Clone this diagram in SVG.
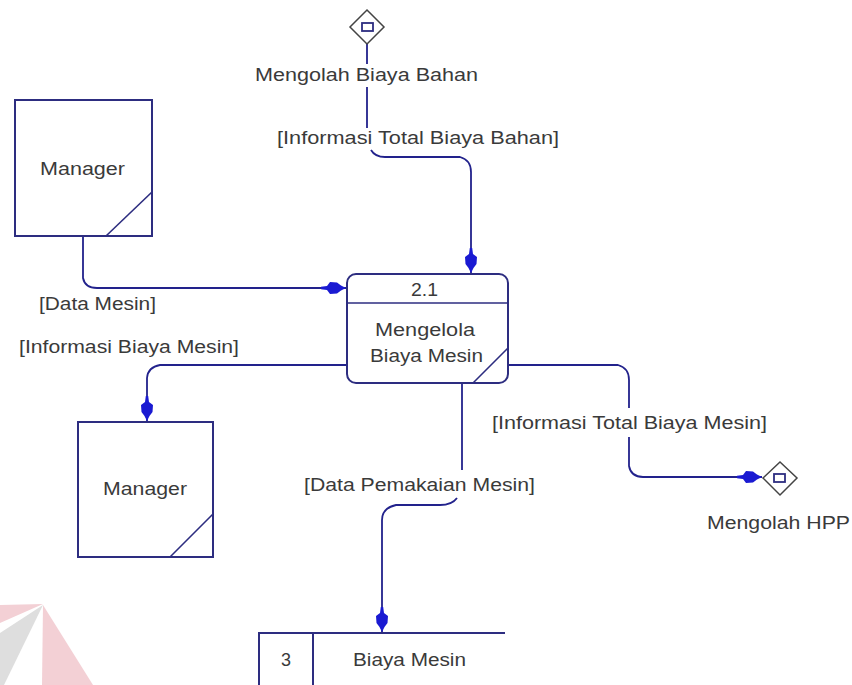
<svg xmlns="http://www.w3.org/2000/svg" width="852" height="685" viewBox="0 0 852 685">
  <style>
    .box { fill: #ffffff; stroke: #2d2d80; stroke-width: 2; }
    .ln { fill: none; stroke: #2d2d80; stroke-width: 1.6; }
    .flow { fill: none; stroke: #22228c; stroke-width: 1.8; }
    .dia { fill: #ffffff; stroke: #444444; stroke-width: 1.5; }
    .t { font-family: "Liberation Sans", Arial, sans-serif; font-size: 17.5px; fill: #3a3a3a; }
  </style>
  <defs>
    <marker id="arr" markerUnits="userSpaceOnUse" markerWidth="30" markerHeight="16" refX="0" refY="0" viewBox="-26 -8 28 16" orient="auto">
      <path d="M0,0 L-5,-2.5 L-9,-5.5 L-16,-6 L-19,-2 L-25,-1.2 L-25,1.2 L-19,2 L-16,6 L-9,5.5 L-5,2.5 Z" fill="#1a1ad2"/>
    </marker>
  </defs>

  <g id="watermark">
    <polygon points="0,605 43,604 0,623" fill="#f3d0d5"/>
    <polygon points="43,605 0,633 0,685 4,685" fill="#dedede"/>
    <polygon points="43,605 42,685 93,685" fill="#f3d0d5"/>
  </g>

  <g id="connectors">
    <path class="flow" d="M367,44 V64 M367,87 V128"/>
    <path class="flow" d="M371,150 Q375,157 385,157 H460 Q471,160 471,172 V273" marker-end="url(#arr)"/>
    <path class="flow" d="M83,236 V278 Q85,288 97,288 H346" marker-end="url(#arr)"/>
    <path class="flow" d="M347,365 H160 Q148,367 147,378 V421" marker-end="url(#arr)"/>
    <path class="flow" d="M508,365 H618 Q629,368 629,380 V408"/>
    <path class="flow" d="M629,437 V466 Q631,477 643,477 H762" marker-end="url(#arr)"/>
    <path class="flow" d="M462,383 V470"/>
    <path class="flow" d="M457,498 Q452,505 440,505 H396 Q382,508 382,520 V632" marker-end="url(#arr)"/>
    <text class="t" x="277" y="144" textLength="282" lengthAdjust="spacingAndGlyphs">[Informasi Total Biaya Bahan]</text>
    <text class="t" x="39" y="310" textLength="117" lengthAdjust="spacingAndGlyphs">[Data Mesin]</text>
    <text class="t" x="19" y="353" textLength="220" lengthAdjust="spacingAndGlyphs">[Informasi Biaya Mesin]</text>
    <text class="t" x="492" y="429" textLength="275" lengthAdjust="spacingAndGlyphs">[Informasi Total Biaya Mesin]</text>
    <text class="t" x="304" y="491" textLength="231" lengthAdjust="spacingAndGlyphs">[Data Pemakaian Mesin]</text>
  </g>

  <g id="src-bahan">
    <polygon class="dia" points="367,10 384,27 367,44 350,27"/>
    <rect x="362" y="23" width="11" height="8" fill="none" stroke="#2d2d80" stroke-width="1.8"/>
    <text class="t" x="255" y="81" textLength="223" lengthAdjust="spacingAndGlyphs">Mengolah Biaya Bahan</text>
  </g>

  <g id="manager1">
    <rect class="box" x="15" y="100" width="137" height="136"/>
    <line class="ln" x1="152" y1="192" x2="106" y2="236"/>
    <text class="t" x="40" y="175" textLength="85" lengthAdjust="spacingAndGlyphs">Manager</text>
  </g>

  <g id="process21">
    <rect class="box" x="347" y="274" width="161" height="109" rx="9" ry="9"/>
    <line class="ln" x1="347" y1="303" x2="508" y2="303"/>
    <line class="ln" x1="508" y1="348" x2="473" y2="383"/>
    <text class="t" x="411" y="296" textLength="27" lengthAdjust="spacingAndGlyphs">2.1</text>
    <text class="t" x="375" y="336" textLength="100" lengthAdjust="spacingAndGlyphs">Mengelola</text>
    <text class="t" x="370" y="362" textLength="113" lengthAdjust="spacingAndGlyphs">Biaya Mesin</text>
  </g>

  <g id="manager2">
    <rect class="box" x="78" y="422" width="135" height="135"/>
    <line class="ln" x1="213" y1="514" x2="170" y2="557"/>
    <text class="t" x="103" y="495" textLength="84" lengthAdjust="spacingAndGlyphs">Manager</text>
  </g>

  <g id="dest-hpp">
    <polygon class="dia" points="780,462 797,478 780,495 763,478"/>
    <rect x="774" y="474" width="11" height="8" fill="none" stroke="#2d2d80" stroke-width="1.8"/>
    <text class="t" x="707" y="529" textLength="143" lengthAdjust="spacingAndGlyphs">Mengolah HPP</text>
  </g>

  <g id="store3">
    <path class="box" d="M505,633 H259 V685 M313,633 V685" fill="none"/>
    <text class="t" x="281" y="666" textLength="10" lengthAdjust="spacingAndGlyphs">3</text>
    <text class="t" x="353" y="666" textLength="113" lengthAdjust="spacingAndGlyphs">Biaya Mesin</text>
  </g>
</svg>
